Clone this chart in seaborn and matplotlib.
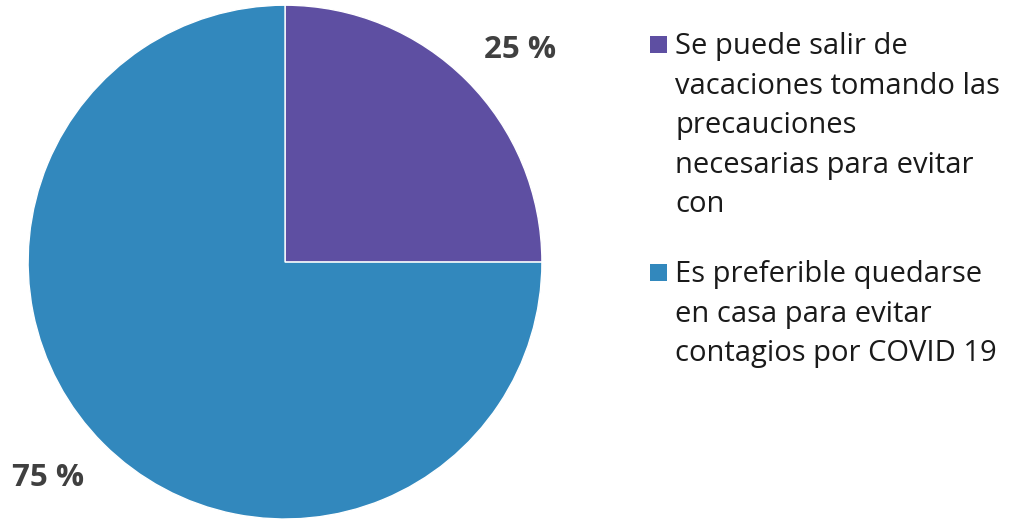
import matplotlib
matplotlib.use('Agg')
import matplotlib.pyplot as plt
from matplotlib.patches import Rectangle
import seaborn as sns

# datos
categorias = ['Se puede salir de\nvacaciones tomando las\nprecauciones\nnecesarias para evitar\ncon',
              'Es preferible quedarse\nen casa para evitar\ncontagios por COVID 19']
valores = [25, 75]
etiquetas = ['25 %', '75 %']
colores = ['#5E4FA2', '#3288BD']

sns.set_theme(style='white')
plt.rcParams['font.family'] = ['Open Sans', 'DejaVu Sans']

W, H = 1015, 519
fig = plt.figure(figsize=(W / 100, H / 100), dpi=100)
ax = fig.add_axes([0.0276, 0.0, 0.5064, 0.990])

wedges, _ = ax.pie(valores, colors=sns.color_palette(colores), startangle=90,
                   counterclock=False, radius=1)
ax.set_xlim(-1, 1)
ax.set_ylim(-1, 1)
ax.set_aspect('equal')
ax.axis('off')

# etiquetas de porcentaje
pos = [(0.914, 0.825), (-0.922, -0.84)]
for (x, y), t in zip(pos, etiquetas):
    ax.text(x, y, t, ha='center', va='center', fontsize=22.5, fontweight='bold',
            color='#404040')

# leyenda hecha a mano (cuadro alineado con la primera linea)
cuadros = [36, 264]
textos = [32, 260]
for w, lab, cy, ty in zip(wedges, categorias, cuadros, textos):
    fig.patches.append(Rectangle((650 / W, 1 - (cy + 17) / H), 17 / W, 17 / H,
                                 transform=fig.transFigure,
                                 facecolor=w.get_facecolor(), edgecolor='none'))
    fig.text(675 / W, 1 - ty / H, lab, ha='left', va='top', fontsize=21,
             linespacing=1.48, color='#1a1a1a')

fig.savefig('out.png', dpi=100)
